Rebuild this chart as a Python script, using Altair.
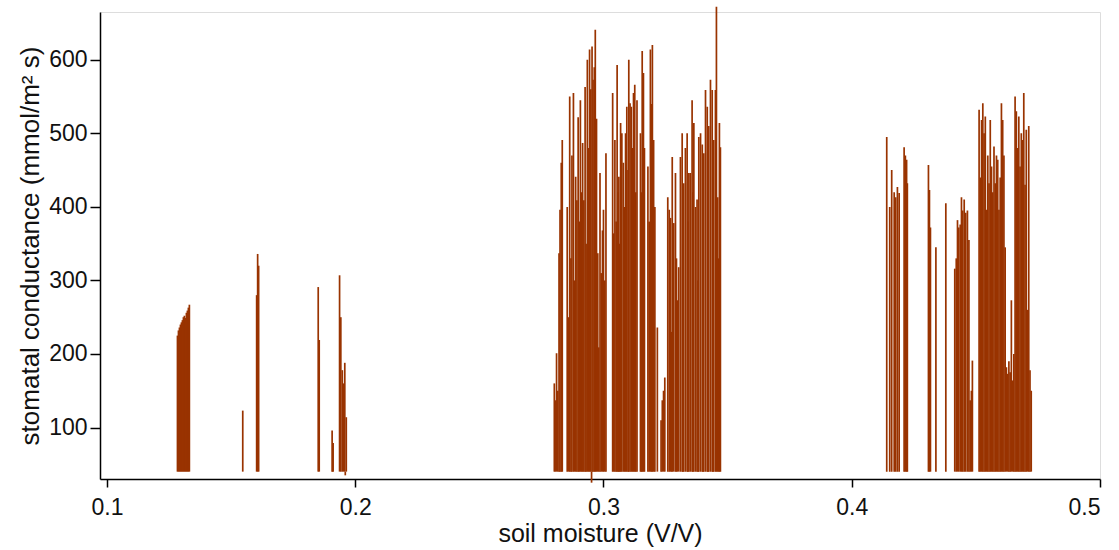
import altair as alt
import pandas as pd

# Stomatal conductance (mmol/m^2 s) against soil moisture (V/V), grouped by moisture band.
sm_013 = [0.1284, 0.1288, 0.1292, 0.1296, 0.1300, 0.1304, 0.1308, 0.1312, 0.1316,
          0.1320, 0.1324, 0.1328, 0.1332]
gs_013 = [225, 232, 236, 240, 243, 246, 250, 252, 249, 256, 259, 263, 267]

sm_016 = [0.1547, 0.1603, 0.1607, 0.1611]
gs_016 = [123, 280, 336, 320]

sm_019 = [0.1851, 0.1855, 0.1907, 0.1911, 0.1937, 0.1942, 0.1948, 0.1953, 0.1958,
          0.1960, 0.1964]
gs_019 = [291, 219, 96, 79, 307, 250, 178, 160, 188, 35, 114]

sm_029 = [0.2802, 0.2806, 0.2811, 0.2816, 0.2821, 0.2825, 0.2830, 0.2834,
          0.2854, 0.2860, 0.2864, 0.2869, 0.2873, 0.2879, 0.2883, 0.2888, 0.2893,
          0.2898, 0.2902, 0.2907, 0.2912, 0.2916, 0.2921, 0.2926, 0.2930, 0.2935,
          0.2940, 0.2944, 0.2949, 0.2952, 0.2954, 0.2958, 0.2963, 0.2967, 0.2972,
          0.2977, 0.2981, 0.2986, 0.2991, 0.2996, 0.3000, 0.3005, 0.3010]
gs_029 = [160, 137, 201, 150, 337, 396, 460, 491,
          400, 250, 550, 330, 470, 555, 300, 441, 409,
          522, 380, 545, 420, 487, 409, 563, 350, 600,
          480, 614, 560, 25, 618, 573, 590, 641, 520,
          337, 209, 446, 310, 368, 396, 300, 473]

sm_031 = [0.3037, 0.3041, 0.3046, 0.3051, 0.3055, 0.3059, 0.3062, 0.3066, 0.3069,
          0.3074, 0.3080, 0.3085, 0.3089, 0.3094, 0.3099, 0.3102, 0.3107, 0.3112,
          0.3117, 0.3121, 0.3126, 0.3130, 0.3135, 0.3149, 0.3153, 0.3156, 0.3161,
          0.3165, 0.3179, 0.3184, 0.3189, 0.3194, 0.3197, 0.3202, 0.3207, 0.3217,
          0.3232, 0.3237, 0.3242, 0.3247]
gs_031 = [555, 364, 491, 380, 593, 420, 441, 350, 514,
          500, 460, 400, 500, 536, 450, 600, 541, 536,
          480, 555, 566, 420, 545, 500, 420, 612, 582,
          480, 455, 380, 614, 540, 620, 491, 400, 236,
          110, 137, 150, 168]

sm_034 = [0.3259, 0.3265, 0.3270, 0.3274, 0.3277, 0.3283, 0.3290, 0.3294, 0.3297,
          0.3303, 0.3310, 0.3317, 0.3320, 0.3323, 0.3330, 0.3337, 0.3340, 0.3344,
          0.3350, 0.3357, 0.3360, 0.3364, 0.3371, 0.3377, 0.3381, 0.3384, 0.3391,
          0.3398, 0.3401, 0.3404, 0.3411, 0.3418, 0.3421, 0.3424, 0.3431, 0.3438,
          0.3441, 0.3444, 0.3451, 0.3455, 0.3460, 0.3464, 0.3467, 0.3471]
gs_034 = [413, 396, 385, 230, 468, 378, 446, 330, 273,
          318, 468, 500, 350, 432, 480, 500, 380, 446,
          446, 545, 420, 514, 400, 410, 300, 495, 500,
          485, 360, 473, 559, 536, 420, 510, 573, 559,
          440, 491, 559, 672, 413, 330, 514, 481]

sm_042 = [0.4141, 0.4153, 0.4161, 0.4171, 0.4177, 0.4184, 0.4191, 0.4211, 0.4216,
          0.4221, 0.4224, 0.4309, 0.4313, 0.4317, 0.4339, 0.4379]
gs_042 = [495, 400, 450, 420, 413, 427, 419, 481, 470,
          464, 432, 457, 423, 372, 345, 405]

sm_044 = [0.4415, 0.4421, 0.4426, 0.4431, 0.4437, 0.4442, 0.4447, 0.4453, 0.4459,
          0.4466, 0.4472, 0.4477, 0.4482, 0.4486]
gs_044 = [316, 330, 382, 372, 376, 413, 395, 410, 392, 395, 355, 137, 150, 191]

sm_046 = [0.4513, 0.4518, 0.4523, 0.4528, 0.4533, 0.4538, 0.4543, 0.4548, 0.4553,
          0.4558, 0.4563, 0.4568, 0.4573, 0.4578, 0.4583, 0.4588, 0.4593, 0.4598,
          0.4603, 0.4608, 0.4613, 0.4618, 0.4623, 0.4628, 0.4633, 0.4638, 0.4643,
          0.4648, 0.4653, 0.4658, 0.4663, 0.4668, 0.4673, 0.4678, 0.4683, 0.4688,
          0.4693, 0.4698, 0.4703, 0.4708, 0.4713, 0.4718, 0.4723]
gs_046 = [532, 440, 518, 541, 500, 523, 396, 470, 432,
          518, 455, 420, 482, 432, 470, 464, 396, 440,
          541, 518, 470, 345, 182, 173, 190, 175, 273,
          164, 200, 550, 530, 480, 523, 455, 500, 491,
          555, 430, 505, 260, 510, 178, 150]

x_ticks = [0.1, 0.2, 0.3, 0.4, 0.5]
y_ticks = [100, 200, 300, 400, 500, 600]
stick_base = 40  # sticks are drawn from this conductance level

bands = [(sm_013, gs_013), (sm_016, gs_016), (sm_019, gs_019), (sm_029, gs_029),
         (sm_031, gs_031), (sm_034, gs_034), (sm_042, gs_042), (sm_044, gs_044),
         (sm_046, gs_046)]
df = pd.concat([pd.DataFrame({"moisture": sm, "conductance": gs}) for sm, gs in bands],
               ignore_index=True)

FONT = "Liberation Sans"

chart = alt.Chart(df).mark_rule(color="#993300", strokeWidth=1.7).encode(
    x=alt.X(
        "moisture:Q",
        scale=alt.Scale(domain=[0.0972, 0.5], nice=False, zero=False),
        axis=alt.Axis(
            values=x_ticks, format=".1f", title="soil moisture (V/V)",
            grid=False, domainColor="black", domainWidth=1.5,
            tickColor="black", tickWidth=1.5, tickSize=8,
            labelFont=FONT, labelFontSize=23, labelColor="#111", labelPadding=9,
            titleFont=FONT, titleFontSize=25, titleFontWeight="normal",
            titleColor="#111", titlePadding=2,
        ),
    ),
    y=alt.Y(
        "conductance:Q",
        scale=alt.Scale(domain=[30, 665], nice=False, zero=False),
        axis=alt.Axis(
            values=y_ticks, title="stomatal conductance (mmol/m² s)",
            grid=False, domainColor="black", domainWidth=1.5,
            tickColor="black", tickWidth=1.5, tickSize=10,
            labelFont=FONT, labelFontSize=23, labelColor="#111", labelPadding=3,
            titleFont=FONT, titleFontSize=26, titleFontWeight="normal",
            titleColor="#111", titlePadding=5,
        ),
    ),
    y2=alt.datum(stick_base),
).properties(
    width=1000,
    height=467,
    autosize=alt.AutoSizeParams(type="none"),
    padding={"left": 100, "top": 12, "right": 19, "bottom": 71},
).configure_view(stroke=None).configure(background="white")

chart.save("out.html", embed_options={"renderer": "svg", "actions": False})
